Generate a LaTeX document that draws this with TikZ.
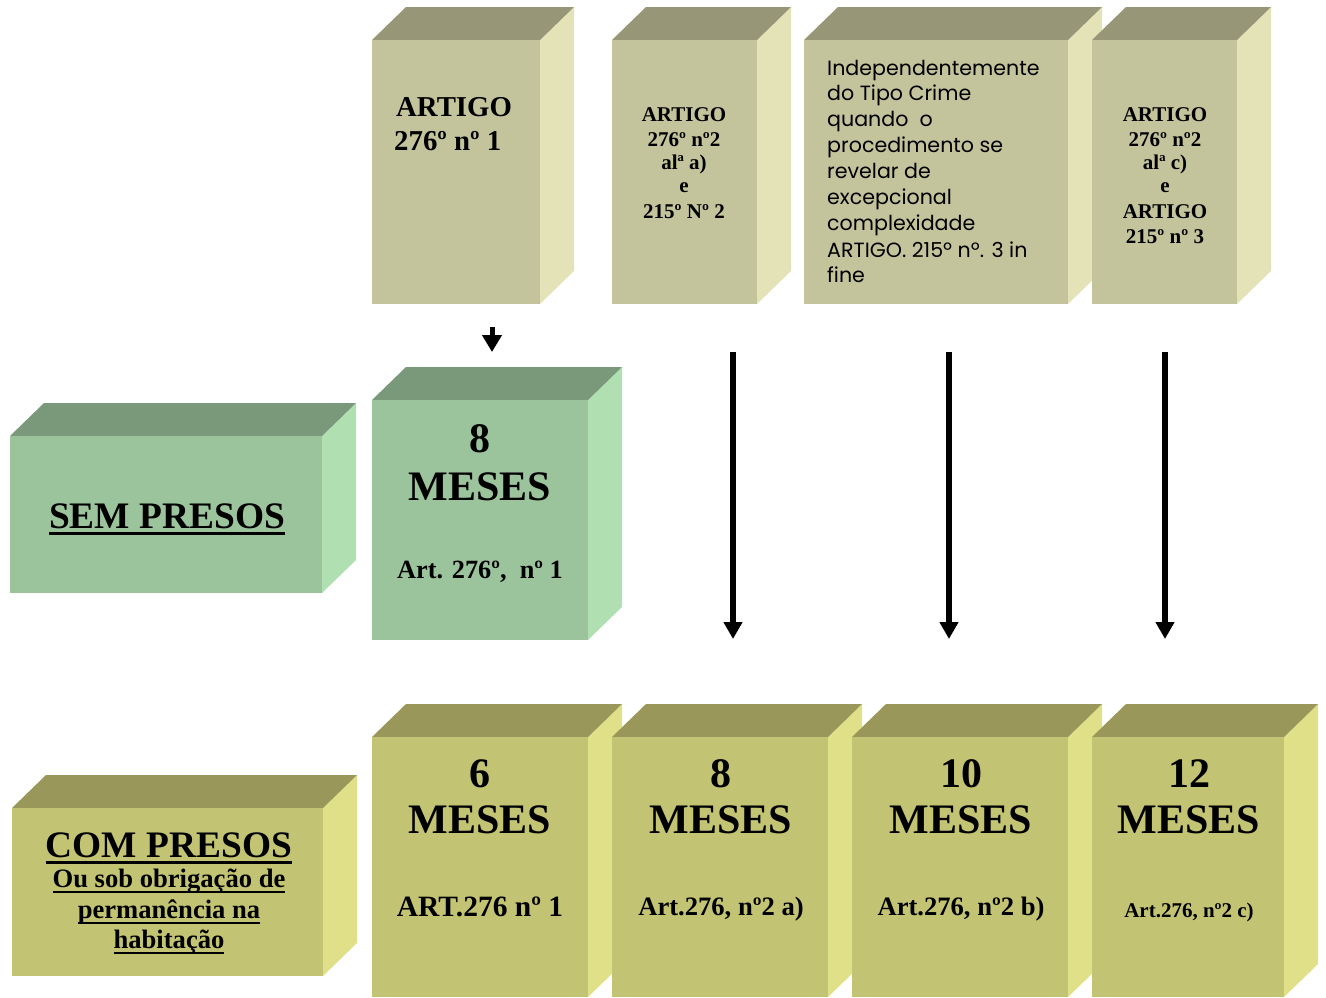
\documentclass[tikz,border=0pt]{standalone}
\usepackage{fontspec}
\setmainfont{Liberation Serif}
\newfontfamily\gothic{Poppins}
\usetikzlibrary{arrows.meta,calc}
\definecolor{tanF}{RGB}{195,196,155}
\definecolor{tanT}{RGB}{151,150,118}
\definecolor{tanS}{RGB}{227,227,183}
\definecolor{grnF}{RGB}{156,196,156}
\definecolor{grnT}{RGB}{122,152,122}
\definecolor{grnS}{RGB}{176,224,178}
\definecolor{olvF}{RGB}{195,196,115}
\definecolor{olvT}{RGB}{153,152,90}
\definecolor{olvS}{RGB}{224,224,136}
% name, x1, y1, x2, y2, palette
\newcommand\cubo[6]{%
  \fill[#6S] (#4,#3) -- ++(34,-33) -- ($(#4,#5)+(34,-33)$) -- (#4,#5) -- cycle;
  \fill[#6T] (#2,#3) -- ++(34,-33) -- ($(#4,#3)+(34,-33)$) -- (#4,#3) -- cycle;
  \node[fill=#6F, inner sep=0pt, outer sep=0pt, anchor=north west,
        minimum width={(#4-#2)*1pt}, minimum height={(#5-#3)*1pt}] (#1) at (#2,#3) {};
}
\newcommand\ulBig[1]{\setbox0\hbox{#1}\rlap{\rule[-7pt]{\wd0}{3pt}}\box0}
\newcommand\ulSmall[1]{\setbox0\hbox{#1}\rlap{\rule[-6pt]{\wd0}{2pt}}\box0}
\tikzset{
  txt/.style={anchor=base, inner sep=0pt, font=\bfseries},
  arr/.style={line width=5.5pt, -{Triangle[width=18pt,length=17pt]}},
  sarr/.style={line width=5pt, -{Triangle[width=19pt,length=17pt]}},
}
\begin{document}
\begin{tikzpicture}[x=1pt,y=-1pt]
\clip (0,0) rectangle (1326,997);
\fill[white] (0,0) rectangle (1326,997);
% top row
\cubo{a}{372}{40}{540}{304}{tan}
\cubo{b}{612}{40}{757}{304}{tan}
\cubo{c}{804}{40}{1068}{304}{tan}
\cubo{d}{1092}{40}{1237}{304}{tan}
% middle row
\cubo{sem}{10}{436}{322}{593}{grn}
\cubo{g8}{372}{400}{588}{640}{grn}
% bottom row
\cubo{com}{12}{808}{323}{976}{olv}
\cubo{m6}{372}{737}{588}{997}{olv}
\cubo{m8}{612}{737}{828}{997}{olv}
\cubo{m10}{852}{737}{1068}{997}{olv}
\cubo{m12}{1092}{737}{1284}{997}{olv}

% texts top row
\node[txt, anchor=base west, font=\fontsize{28.8}{33}\bfseries\selectfont] (a1) at (396,116) {ARTIGO};
\node[txt, anchor=base west, font=\fontsize{28.8}{33}\bfseries\selectfont] (a2) at (394,150) {276º nº 1};

\begin{scope}[every node/.style={txt, font=\fontsize{21}{24}\bfseries\selectfont}]
\node (b1) at (684,121) {ARTIGO};
\node (b2) at (684,146) {276º nº2};
\node (b3) at (684,169) {alª a)};
\node (b4) at (684,192) {e};
\node (b5) at (684,218) {215º Nº 2};
\node (d1) at (1165,121) {ARTIGO};
\node (d2) at (1165,146) {276º nº2};
\node (d3) at (1165,169) {alª c)};
\node (d4) at (1165,192) {e};
\node (d5) at (1165,218) {ARTIGO};
\node (d6) at (1165,243) {215º nº 3};
\end{scope}

\begin{scope}[every node/.style={anchor=base west, inner sep=0pt, font=\gothic\fontsize{20.6}{26}\selectfont}]
\node (c1) at (827,75) {Independentemente};
\node (c2) at (827,100) {do Tipo Crime};
\node (c3) at (827,126) {quando\ \ o};
\node (c4) at (827,152) {procedimento se};
\node (c5) at (827,178) {revelar de};
\node (c6) at (827,204) {excepcional};
\node (c7) at (827,230) {complexidade};
\node (c8) at (827,257) {ARTIGO. 215º nº. 3 in};
\node (c9) at (827,282) {fine};
\end{scope}

% middle
\node[txt, font=\fontsize{37.4}{40}\bfseries\selectfont] (semt) at (167,528) {\ulBig{SEM PRESOS}};
\node[txt, font=\fontsize{42}{46}\bfseries\selectfont] (g8a) at (480,452) {8};
\node[txt, font=\fontsize{42}{46}\bfseries\selectfont] (g8b) at (480,500) {MESES};
\node[txt, font=\fontsize{26.3}{28}\bfseries\selectfont] (g8c) at (480,578) {Art. 276º,\ \ nº 1};

% bottom
\node[txt, font=\fontsize{37.4}{40}\bfseries\selectfont] (comt) at (169,857) {\ulBig{COM PRESOS}};
\node[txt, font=\fontsize{26.6}{30}\bfseries\selectfont] (com2) at (169,887) {\ulSmall{Ou sob obrigação de}};
\node[txt, font=\fontsize{26.6}{30}\bfseries\selectfont] (com3) at (169,918) {\ulSmall{permanência na}};
\node[txt, font=\fontsize{26.6}{30}\bfseries\selectfont] (com4) at (169,948) {\ulSmall{habitação}};

\begin{scope}[every node/.style={txt, font=\fontsize{42}{46}\bfseries\selectfont}]
\node (n6) at (480,787) {6};
\node (t6) at (480,833) {MESES};
\node (n8) at (721,787) {8};
\node (t8) at (721,833) {MESES};
\node (n10) at (961,787) {10};
\node (t10) at (961,833) {MESES};
\node (n12) at (1189,787) {12};
\node (t12) at (1189,833) {MESES};
\end{scope}
\node[txt, font=\fontsize{29.5}{30}\bfseries\selectfont] (r6) at (480,916) {ART.276 nº 1};
\node[txt, font=\fontsize{26.6}{28}\bfseries\selectfont] (r8) at (721,915) {Art.276, nº2 a)};
\node[txt, font=\fontsize{26.6}{28}\bfseries\selectfont] (r10) at (961,915) {Art.276, nº2 b)};
\node[txt, font=\fontsize{21}{22}\bfseries\selectfont] (r12) at (1189,917) {Art.276, nº2 c)};

% arrows
\coordinate (s0) at (492,327);
\coordinate (e0) at (492,352);
\draw[sarr] (s0) -- (e0);
\coordinate (s1) at (733,352);
\coordinate (e1) at (733,639);
\coordinate (s2) at (949,352);
\coordinate (e2) at (949,639);
\coordinate (s3) at (1165,352);
\coordinate (e3) at (1165,639);
\draw[arr] (s1) -- (e1);
\draw[arr] (s2) -- (e2);
\draw[arr] (s3) -- (e3);
\end{tikzpicture}
\end{document}
